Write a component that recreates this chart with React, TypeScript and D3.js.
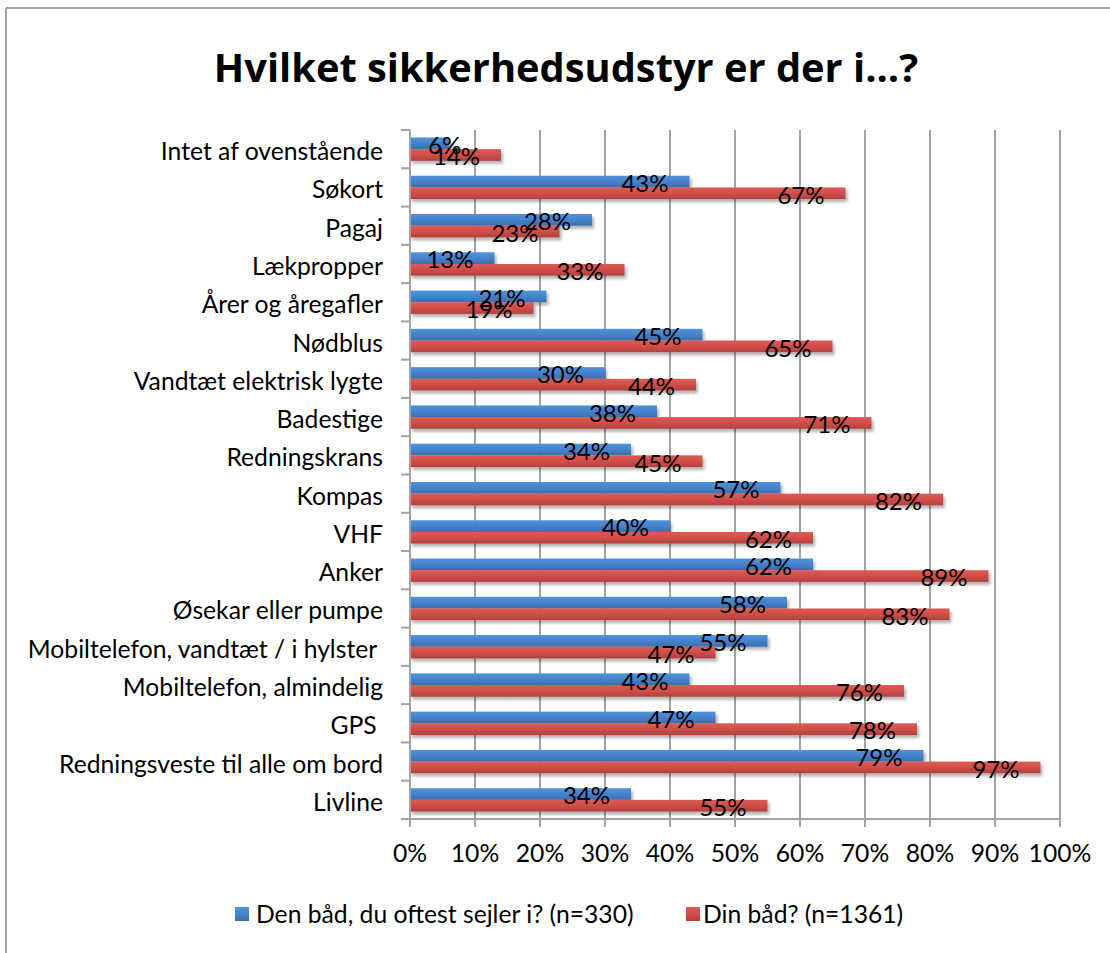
import React from "react";
import * as d3 from "d3";

const categories = [
  "Intet af ovenstående",
  "Søkort",
  "Pagaj",
  "Lækpropper",
  "Årer og åregafler",
  "Nødblus",
  "Vandtæt elektrisk lygte",
  "Badestige",
  "Redningskrans",
  "Kompas",
  "VHF",
  "Anker",
  "Øsekar eller pumpe",
  "Mobiltelefon, vandtæt / i hylster ",
  "Mobiltelefon, almindelig",
  "GPS ",
  "Redningsveste til alle om bord",
  "Livline",
];

const blueValues = [6, 43, 28, 13, 21, 45, 30, 38, 34, 57, 40, 62, 58, 55, 43, 47, 79, 34];
const redValues = [14, 67, 23, 33, 19, 65, 44, 71, 45, 82, 62, 89, 83, 47, 76, 78, 97, 55];

const seriesNames = ["Den båd, du oftest sejler i? (n=330)", "Din båd? (n=1361)"];
const xTicks = [0, 10, 20, 30, 40, 50, 60, 70, 80, 90, 100];

const W = 1110;
const H = 953;
const left = 410;
const right = 1060;
const top = 130;
const bottom = 819;
const FONT = "Lato, sans-serif";
const TFONT = "'Open Sans', sans-serif";
const FS = 24.7;
const VFS = 24;

export default function App() {
  const x = d3.scaleLinear().domain([0, 100]).range([left, right]);
  const y = d3.scaleBand<string>().domain(categories).range([top, bottom]).paddingInner(0).paddingOuter(0);
  const bw = y.bandwidth();
  const groupH = bw * 0.61;
  const barH = groupH / 2;
  const off = (bw - groupH) / 2;
  const series = [
    { values: blueValues, fill: "url(#gBlue)" },
    { values: redValues, fill: "url(#gRed)" },
  ];
  const boundaries = d3.range(categories.length + 1).map((i) => top + i * bw);

  return (
    <svg width={W} height={H} style={{ position: "absolute", left: 0, top: 0, background: "#fff" }}>
      <defs>
        <linearGradient id="gBlue" x1="0" y1="0" x2="0" y2="1">
          <stop offset="0" stopColor="#4f93dc" />
          <stop offset="0.5" stopColor="#4682cb" />
          <stop offset="1" stopColor="#3a6eae" />
        </linearGradient>
        <linearGradient id="gRed" x1="0" y1="0" x2="0" y2="1">
          <stop offset="0" stopColor="#e05a55" />
          <stop offset="0.5" stopColor="#d04e4a" />
          <stop offset="1" stopColor="#b3403c" />
        </linearGradient>
        <filter id="shadow" x="-10%" y="-50%" width="130%" height="250%">
          <feDropShadow dx="2" dy="3" stdDeviation="1.8" floodColor="#000" floodOpacity="0.3" />
        </filter>
      </defs>
      {/* outer border */}
      <line x1={6} y1={8} x2={W} y2={8} stroke="#a6a6a6" strokeWidth={2} />
      <line x1={6} y1={8} x2={6} y2={H} stroke="#a6a6a6" strokeWidth={2} />

      <text x={566} y={82} textAnchor="middle" fontFamily={TFONT} fontWeight="bold" fontSize={39.8} fill="#000">
        Hvilket sikkerhedsudstyr er der i...?
      </text>

      {/* gridlines */}
      {xTicks.slice(1).map((t) => (
        <line key={"g" + t} x1={x(t)} x2={x(t)} y1={top} y2={bottom} stroke="#a3a3a3" strokeWidth={2} />
      ))}

      {/* bars */}
      {categories.map((c, i) => (
        <g key={c}>
          {series.map((s, j) => (
            <rect
              key={j}
              x={x(0)}
              y={(y(c) as number) + off + j * barH}
              width={x(s.values[i]) - x(0)}
              height={barH}
              fill={s.fill}
              filter="url(#shadow)"
            />
          ))}
        </g>
      ))}

      {/* axes */}
      <line x1={left} x2={left} y1={top} y2={bottom} stroke="#a3a3a3" strokeWidth={2} />
      <line x1={left} x2={right} y1={bottom} y2={bottom} stroke="#a3a3a3" strokeWidth={2} />
      {boundaries.map((b, i) => (
        <line key={"yt" + i} x1={left - 9} x2={left} y1={b} y2={b} stroke="#a3a3a3" strokeWidth={2} />
      ))}
      {xTicks.map((t) => (
        <line key={"xt" + t} x1={x(t)} x2={x(t)} y1={bottom} y2={bottom + 8} stroke="#a3a3a3" strokeWidth={2} />
      ))}

      {/* value labels */}
      {categories.map((c, i) => (
        <g key={"l" + c}>
          {series.map((s, j) => {
            const end = x(s.values[i]);
            const yb = (y(c) as number) + off + (j + 1) * barH + 4.5;
            const clamp = end - 21 - 44 < left + 18;
            return (
              <text
                key={j}
                x={clamp ? left + 18 : end - 21}
                y={yb}
                textAnchor={clamp ? "start" : "end"}
                fontFamily={FONT}
                fontSize={VFS}
                fill="#000"
              >
                {s.values[i]}%
              </text>
            );
          })}
        </g>
      ))}

      {/* category labels */}
      {categories.map((c) => (
        <text
          key={"c" + c}
          x={383}
          y={(y(c) as number) + bw / 2 + 11}
          textAnchor="end"
          fontFamily={FONT}
          fontSize={FS}
          fill="#000"
          style={{ whiteSpace: "pre" }}
        >
          {c}
        </text>
      ))}

      {/* x tick labels */}
      {xTicks.map((t) => (
        <text key={"xl" + t} x={x(t)} y={862} textAnchor="middle" fontFamily={FONT} fontSize={FS} fill="#000">
          {t}%
        </text>
      ))}

      {/* legend */}
      <rect x={235} y={907} width={14} height={14} fill="url(#gBlue)" />
      <text x={256} y={923} fontFamily={FONT} fontSize={FS} fill="#000">
        {seriesNames[0]}
      </text>
      <rect x={686} y={907} width={14} height={14} fill="url(#gRed)" />
      <text x={703} y={923} fontFamily={FONT} fontSize={FS} fill="#000">
        {seriesNames[1]}
      </text>
    </svg>
  );
}
